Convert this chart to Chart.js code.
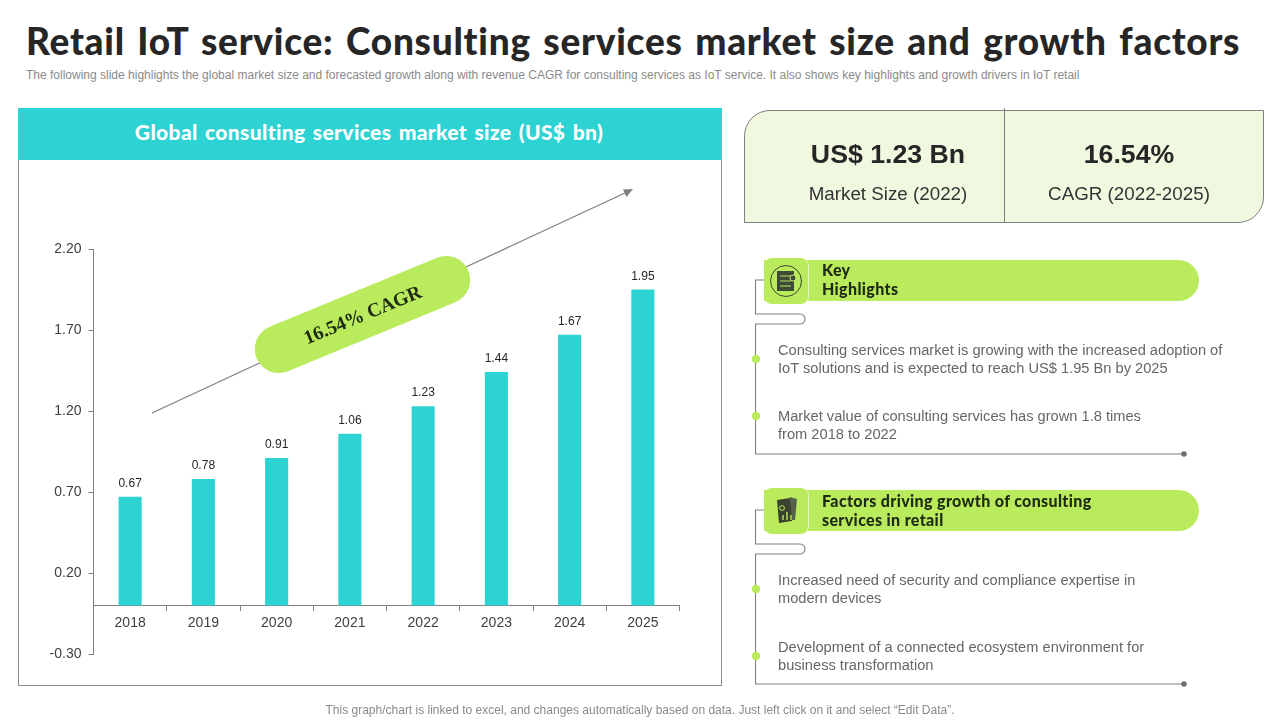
<!DOCTYPE html>
<html><head><meta charset="utf-8">
<script src="https://cdn.jsdelivr.net/npm/chart.js@4/dist/chart.umd.min.js"></script>
<style>
html,body{margin:0;padding:0;background:#fff;width:1280px;height:720px;overflow:hidden;font-family:"Liberation Sans",Arial,sans-serif}
.a{position:absolute;white-space:nowrap}
#title{left:26px;top:18px;font:900 37px/46px Lato,sans-serif;color:#262626;word-spacing:3px;letter-spacing:.75px}
#sub{left:26px;top:68px;font-size:12px;line-height:14px;color:#8a8a8a}
#panel{left:18px;top:108px;width:702px;height:577px;border:1px solid #8c8c8c;border-top:none;box-sizing:content-box}
#head{left:18px;top:108px;width:704px;height:52px;background:#2DD2D2;color:#fff;font:900 21px/48px Lato,sans-serif;text-align:center;letter-spacing:.35px;word-spacing:2px;text-indent:-2px}
#cv{position:absolute;left:0;top:0}
#kpi{left:744px;top:110px;width:518px;height:111px;border:1px solid #808080;background:#F0F9E0;border-radius:26px 0 26px 0}
#div{left:1004px;top:108px;width:1px;height:114px;background:#808080}
.big{font:bold 26.7px/32px "Liberation Sans";color:#262626;text-align:center;width:260px}
.lab{font:18.8px/24px "Liberation Sans";color:#333;text-align:center;width:260px}
.band{left:764px;width:435px;height:41px;background:#B9EB5C;border-radius:0 21px 21px 0}
.ico{left:764px;width:44px;height:46px;background:#B9EB5C;border-radius:8px;border-right:1px solid #e4f6c4}
.bh{left:822px;font:900 16px/19px Lato,sans-serif;color:#1e2a12;letter-spacing:.35px}
.t{left:778px;font:14.65px/18px "Liberation Sans";color:#666}
#foot{left:0;width:1280px;top:703px;text-align:center;font-size:12px;line-height:14px;color:#8a8a8a}
svg{position:absolute;left:0;top:0}
</style></head><body>
<div class="a" id="title">Retail IoT service: Consulting services market size and growth factors</div>
<div class="a" id="sub">The following slide highlights the global market size and forecasted growth along with revenue CAGR for consulting services as IoT service. It also shows key highlights and growth drivers in IoT retail</div>
<div class="a" id="panel"></div>
<div class="a" id="head">Global consulting services market size (US$ bn)</div>
<canvas id="cv" width="1280" height="720" style="width:1280px;height:720px"></canvas>
<svg width="1280" height="720" viewBox="0 0 1280 720">
<line x1="152" y1="413" x2="625" y2="193" stroke="#808080" stroke-width="1.2"/>
<polygon points="633,189 623,189.5 626.5,197" fill="#808080"/>
<g transform="translate(362.5 314.5) rotate(-22.4)">
<rect x="-114.5" y="-24" width="229" height="48" rx="24" fill="#B9EB5C"/>
<text x="0" y="6.5" text-anchor="middle" font-family="Liberation Serif" font-weight="bold" font-size="19.5" fill="#1e2a12">16.54% CAGR</text>
</g>
</svg>
<div class="a" id="kpi"></div><div class="a" id="div"></div>
<div class="a big" style="left:758px;top:138px">US$ 1.23 Bn</div>
<div class="a lab" style="left:758px;top:182px">Market Size (2022)</div>
<div class="a big" style="left:999px;top:138px">16.54%</div>
<div class="a lab" style="left:999px;top:182px">CAGR (2022-2025)</div>
<div class="a band" style="top:260px"></div><div class="a ico" style="top:258px"></div>
<div class="a bh" style="top:260px">Key<br>Highlights</div>
<div class="a band" style="top:490px"></div><div class="a ico" style="top:488px"></div>
<div class="a bh" style="top:491px">Factors driving growth of consulting<br>services in retail</div>
<svg width="1280" height="720" viewBox="0 0 1280 720" fill="none" stroke="#808080" stroke-width="1.1">
<path d="M764 280H755.5V314H800a5 5 0 0 1 0 10H755.5V454H1184"/>
<path d="M764 510H755.5V544H800a5 5 0 0 1 0 10H755.5V684H1184"/>
<g stroke="none">
<circle cx="1184" cy="454" r="2.8" fill="#707070"/><circle cx="1184" cy="684" r="2.8" fill="#707070"/>
<circle cx="756" cy="359" r="4.2" fill="#B9EB5C"/><circle cx="756" cy="416" r="4.2" fill="#B9EB5C"/>
<circle cx="756" cy="589" r="4.2" fill="#B9EB5C"/><circle cx="756" cy="656" r="4.2" fill="#B9EB5C"/>
</g>
<circle cx="786" cy="281" r="15.5" stroke="#3c4a30" stroke-width="1"/>
<rect x="777" y="271" width="17" height="20" fill="#3f4a38" stroke="none"/>
<path d="M780 276h11M780 281h11M780 286h11" stroke="#B9EB5C" stroke-width="1"/>
<circle cx="793" cy="278" r="3" fill="#3f4a38" stroke="#B9EB5C" stroke-width="1"/>
<path d="M777 500l13-2 2 4v19l-13 2z" fill="#39432f" stroke="none"/>
<path d="M790 497l7 2-2 21h-3z" fill="#55614a" stroke="none"/>
<circle cx="782" cy="508" r="2.4" stroke="#B9EB5C" stroke-width="1"/>
<path d="M783 520v-5M787 520v-8M791 520v-5" stroke="#B9EB5C" stroke-width="1.4"/>
</svg>
<div class="a t" style="top:341px">Consulting services market is growing with the increased adoption of<br>IoT solutions and is expected to reach US$ 1.95 Bn by 2025</div>
<div class="a t" style="top:407px">Market value of consulting services has grown 1.8 times<br>from 2018 to 2022</div>
<div class="a t" style="top:571px">Increased need of security and compliance expertise in<br>modern devices</div>
<div class="a t" style="top:638px">Development of a connected ecosystem environment for<br>business transformation</div>
<div class="a" id="foot">This graph/chart is linked to excel,  and changes automatically based on data. Just left click on it and select “Edit Data”.</div>
<script>
const years = ["2018","2019","2020","2021","2022","2023","2024","2025"];
const marketSize = [0.67,0.78,0.91,1.06,1.23,1.44,1.67,1.95];
const yMin = -0.30, yMax = 2.20, yStep = 0.50;
const barColor = "#2DD2D2", axisColor = "#808080", textColor = "#404040";

const valueLabels = {
  id:"valueLabels",
  afterDatasetsDraw(chart){
    const {ctx} = chart, meta = chart.getDatasetMeta(0);
    ctx.save();
    ctx.font = '12px "Liberation Sans"';
    ctx.fillStyle = "#262626";
    ctx.textAlign = "center";
    ctx.textBaseline = "bottom";
    meta.data.forEach((bar,i)=>ctx.fillText(marketSize[i].toFixed(2),bar.x,bar.y-7));
    ctx.restore();
  }
};
new Chart(document.getElementById("cv"),{
  type:"bar",
  data:{labels:years,datasets:[{data:marketSize,backgroundColor:barColor,barPercentage:0.63,categoryPercentage:0.5}]},
  options:{
    responsive:false,animation:false,
    layout:{padding:{left:43.5,right:600.5,top:249,bottom:66}},
    plugins:{legend:{display:false},tooltip:{enabled:false}},
    scales:{
      x:{position:{y:0},offset:true,
        grid:{display:true,drawOnChartArea:false,drawTicks:true,tickLength:5,color:axisColor,offset:true},
        border:{display:true,color:axisColor},
        ticks:{color:textColor,font:{family:"Liberation Sans",size:14},padding:4,maxRotation:0}},
      y:{min:yMin,max:yMax,afterFit(s){s.width=50;},
        grid:{display:true,drawOnChartArea:false,tickLength:5,color:axisColor},
        border:{display:true,color:axisColor},
        ticks:{stepSize:yStep,color:textColor,font:{family:"Liberation Sans",size:14},padding:7,
          callback:v=>Number(v).toFixed(2)}}
    }
  },
  plugins:[valueLabels]
});
</script>
</body></html>
